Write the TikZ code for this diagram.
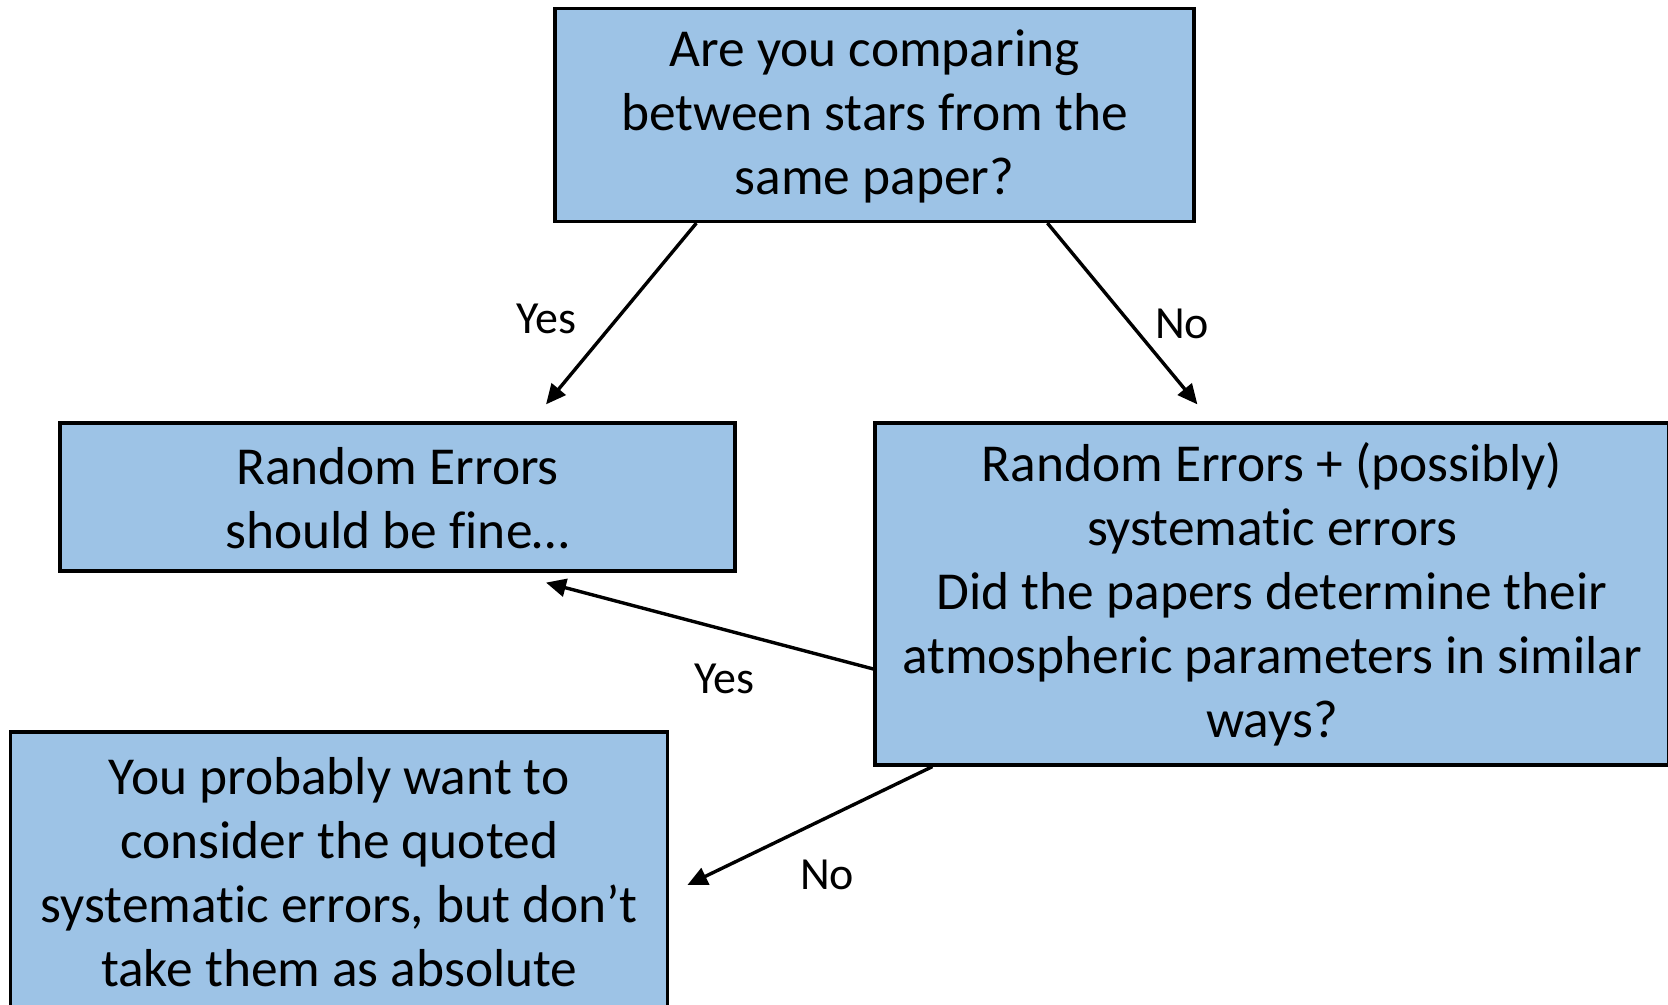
\documentclass[tikz,border=0pt]{standalone}
\usepackage{fontspec}
\setmainfont{Carlito}[Ligatures=NoCommon]
\usetikzlibrary{arrows.meta,calc}
\definecolor{boxblue}{HTML}{9DC3E6}
\tikzset{
  qbox/.style={draw=black,line width=1.6pt,fill=boxblue,align=center,inner sep=0pt,
    font=\fontsize{26.7pt}{32pt}\selectfont},
  lbl/.style={font=\fontsize{23pt}{27pt}\selectfont,inner sep=0pt},
  flow/.style={line width=1.7pt,-{Triangle[length=10pt,width=9pt]}}
}
\begin{document}
\begin{tikzpicture}[x=0.5pt,y=-0.5pt]
  \useasboundingbox (0,0) rectangle (1668,1005);
  \clip (0,0) rectangle (1668,1005);
  \node[qbox,minimum width=319.5pt,minimum height=106.5pt] (same) at (874.5,115)
    {\rule{0pt}{20pt}Are you comparing\\between stars from the\\same paper?};
  \node[qbox,minimum width=337.5pt,minimum height=74pt] (fine) at (397.5,497)
    {\rule{0pt}{20pt}Random Errors\\should be fine\ldots};
  \node[qbox,minimum width=397pt,minimum height=171pt] (syst) at (1272,594)
    {\rule{0pt}{20pt}Random Errors + (possibly)\\systematic errors\\Did the papers determine their\\atmospheric parameters in similar\\ways?};
  \node[qbox,minimum width=328.5pt,minimum height=138.5pt] (quoted) at (339.3,870.5)
    {\rule{0pt}{20pt}You probably want to\\consider the quoted\\systematic errors, but don’t\\take them as absolute};
  \draw[flow] ($(same.south west)+(143,0)$) -- ($(fine.north)+(148.5,-17)$);
  \draw[flow] ($(same.south west)+(494,0)$) -- ($(syst.north west)+(324,-17)$);
  \draw[flow] ($(syst.west)+(0,75)$) -- ($(fine.south)+(148.5,10)$);
  \draw[flow] ($(syst.south west)+(59,0)$) -- ($(quoted.east)+(18,14.5)$);
  \node[lbl] (yes1) at (546,319) {Yes};
  \node[lbl] (no1) at (1182,324) {No};
  \node[lbl] (yes2) at (724,679) {Yes};
  \node[lbl] (no2) at (827,875) {No};
\end{tikzpicture}
\end{document}
